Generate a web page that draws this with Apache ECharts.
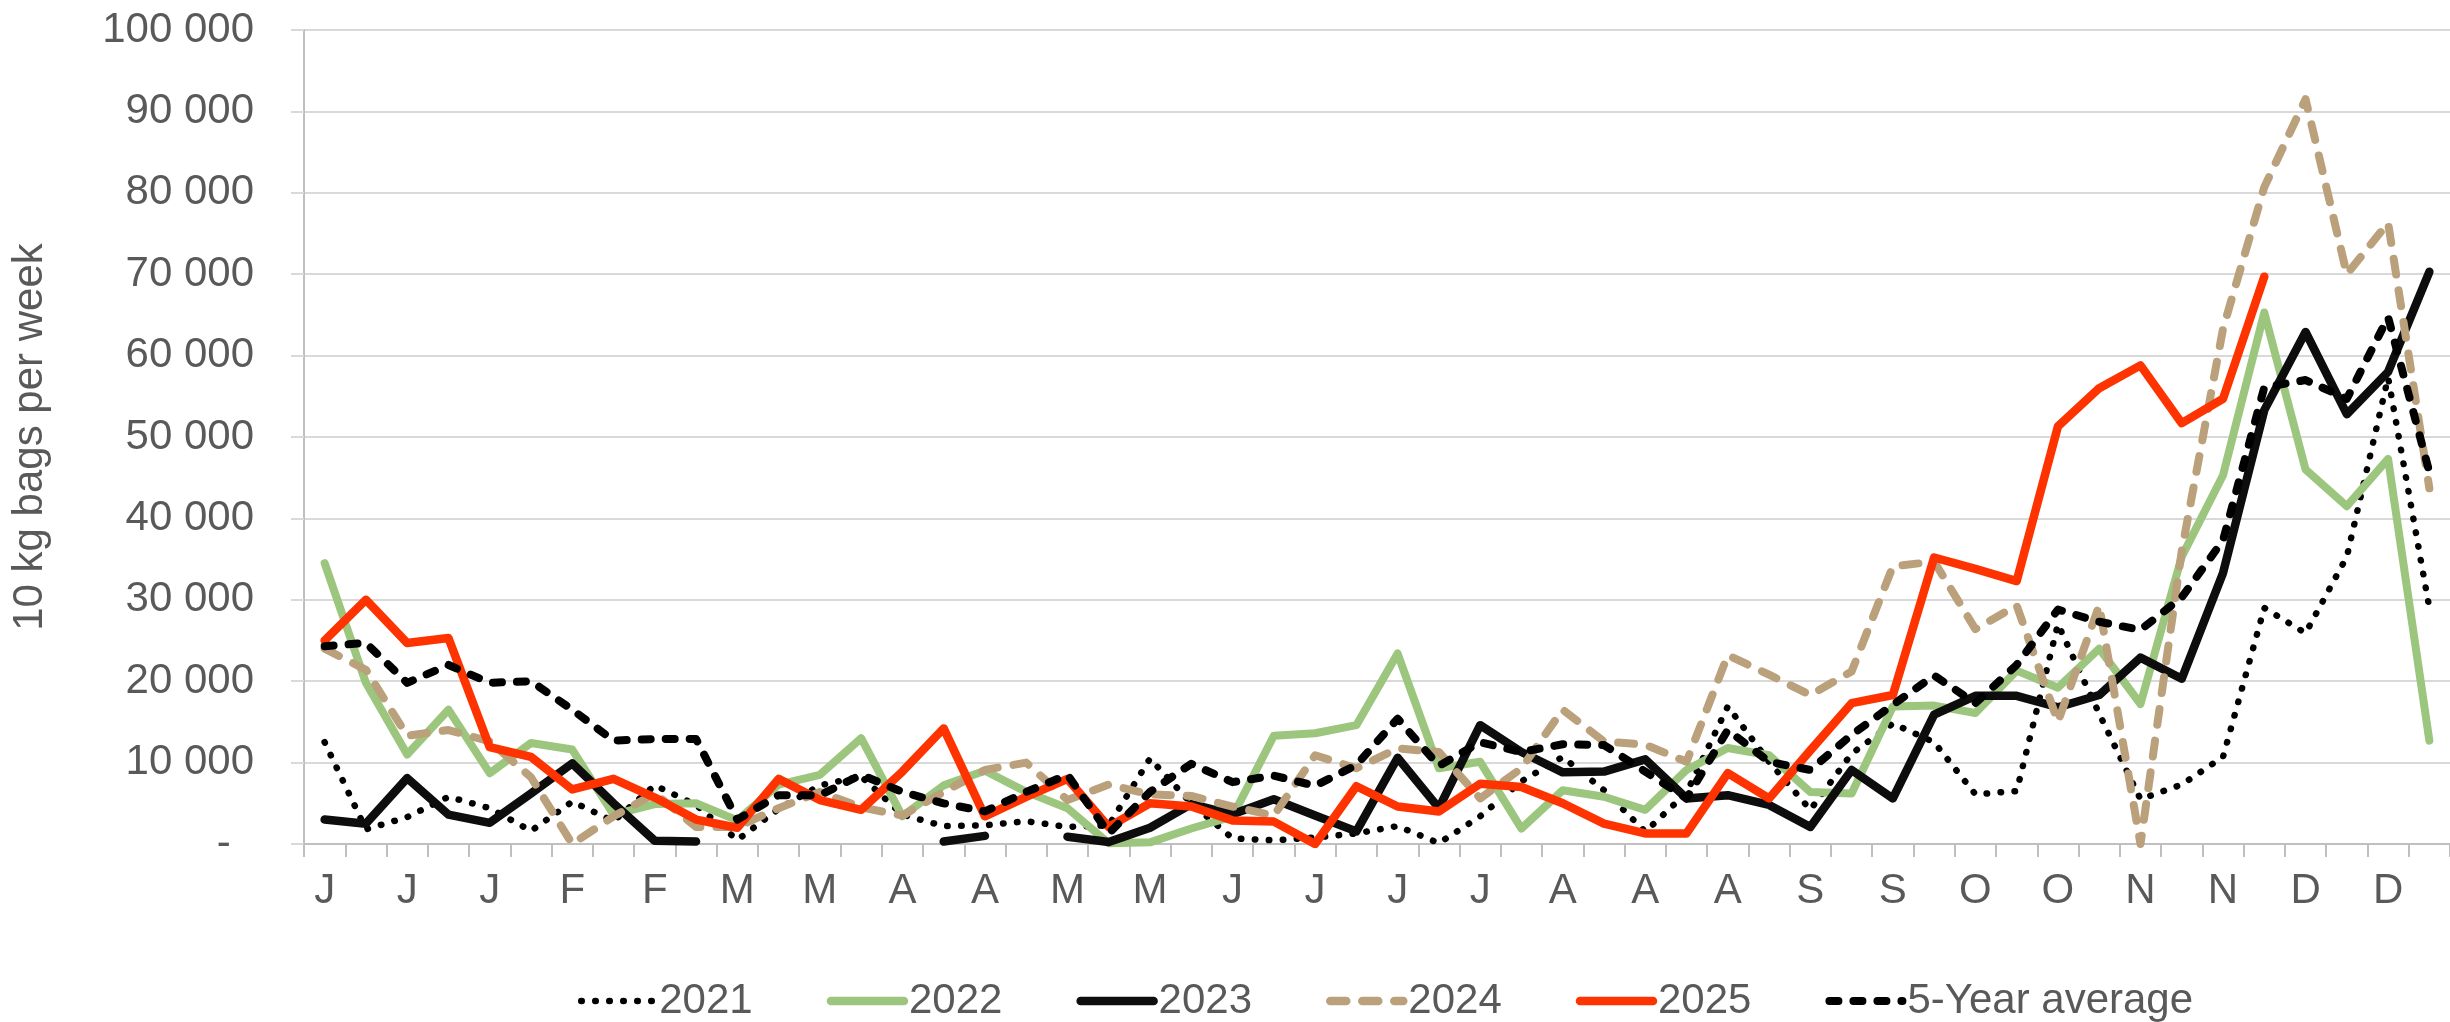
<!DOCTYPE html>
<html>
<head>
<meta charset="utf-8">
<script src="https://cdn.jsdelivr.net/npm/echarts@6/dist/echarts.min.js"></script>
<style>
  html, body { margin: 0; padding: 0; background: #fff; }
  #chart { width: 2450px; height: 1022px; }
</style>
</head>
<body>
<div id="chart"></div>
<script>
// week labels (one per week, only every second one is shown)
const weeks = ['J','J','J','J','J','J','F','F','F','F','M','M','M','M','A','A','A','A','M','M',
               'M','M','J','J','J','J','J','J','J','J','A','A','A','A','A','A','S','S','S','S',
               'O','O','O','O','N','N','N','N','D','D','D','D'];

const y2021 = [12500, 1800, 3300, 5800, 4400, 1600, 5200, 2800, 7200, 4800,
               500, 4300, 7200, 8300, 3600, 2200, 2300, 2800, 2100, 2300,
               10500, 5000, 700, 450, 800, 1300, 2200, 100, 3400, 7700,
               10700, 6600, 1500, 6300, 16900, 10100, 4200, 11100, 14800, 12500,
               6100, 6500, 27000, 16000, 5500, 7300, 10700, 29000, 25900, 35300,
               57300, 29000];

const y2022 = [34500, 19800, 11000, 16500, 8700, 12400, 11600, 3600, 4900, 5000,
               2900, 7300, 8500, 13000, 3400, 7200, 9000, 6400, 4400, 100,
               200, 1900, 3400, 13300, 13600, 14600, 23400, 9300, 10100, 1900,
               6600, 5800, 4200, 9100, 11800, 10900, 6400, 6200, 16900, 17000,
               16100, 21300, 19200, 24000, 17200, 35300, 45300, 65300, 46000, 41500,
               47300, 12700];

const y2023 = [3000, 2500, 8100, 3600, 2600, 6200, 9900, 5000, 400, 300,
               null, null, null, null, null, 300, 1000, null, 900, 250,
               2000, 4900, 3650, 5500, 3500, 1550, 10600, 4400, 14600, 11300,
               8800, 8900, 10400, 5600, 6000, 4800, 2100, 9100, 5600, 15900,
               18200, 18200, 16800, 18300, 22900, 20300, 33300, 53300, 62900, 52800,
               58000, 70300];

const y2024 = [24000, 21400, 13300, 14000, 12600, 8200, 0, 3400, 6200, 2100,
               2100, 4400, 6400, 4500, 3500, 6400, 9100, 10000, 5400, 7300,
               6100, 5900, 4600, 3500, 10900, 9300, 11750, 11300, 5600, 9300,
               16500, 12600, 12200, 10100, 23200, 20800, 18300, 21200, 34100, 34700,
               26400, 29300, 15000, 29300, 0, 36000, 63300, 80700, 91500, 70000,
               76300, 43700];

const y2025 = [25000, 30000, 24700, 25300, 11900, 10700, 6700, 8000, 5700, 3000,
               2000, 8000, 5400, 4200, 8900, 14200, 3400, 5800, 8000, 2100,
               5000, 4600, 2900, 2750, 0, 7100, 4600, 4000, 7400, 7000,
               5000, 2500, 1300, 1300, 8700, 5600, 11500, 17300, 18300, 35200,
               33800, 32300, 51300, 56000, 58800, 51700, 54700, 69700];

const avg5 = [24300, 24700, 19800, 22000, 19800, 20000, 16500, 12700, 12900, 12900,
              3000, 6000, 6000, 8500, 6400, 5000, 4000, 6400, 8500, 1300,
              6400, 9850, 7600, 8400, 7150, 9700, 15400, 9600, 12500, 11300,
              12250, 12150, 8900, 5600, 14000, 10100, 9100, 13400, 17100, 20700,
              17300, 22000, 28800, 27300, 26300, 30300, 37300, 56100, 57000, 54700,
              64700, 45700];

const textGrey = '#595959';
const font = 'Liberation Sans, Arial, sans-serif';

// Excel style: thousands with a space, zero shown as a dash
const fmt = v => v === 0 ? '-  ' : String(v).replace(/\B(?=(\d{3})+(?!\d))/g, ' ');

const mkLine = (name, data, color, width, type) => ({
    name: name,
    type: 'line',
    data: data,
    symbol: 'none',
    connectNulls: false,
    lineStyle: { color: color, width: width, type: type, cap: 'round', join: 'round' },
    itemStyle: { color: color }
});

const chart = echarts.init(document.getElementById('chart'));
chart.setOption({
    backgroundColor: '#fff',
    animation: false,
    grid: { left: 304, top: 30, width: 2151, height: 814 },
    xAxis: {
        type: 'category',
        data: weeks,
        boundaryGap: true,
        axisLine: { lineStyle: { color: '#bfbfbf', width: 2 } },
        axisTick: { show: true, interval: 0, length: 13, lineStyle: { color: '#bfbfbf', width: 2 } },
        axisLabel: { interval: 1, margin: 26, color: textGrey, fontSize: 42, fontFamily: font }
    },
    yAxis: {
        type: 'value',
        min: 0,
        max: 100000,
        interval: 10000,
        name: '10 kg bags per week',
        nameLocation: 'middle',
        nameRotate: 90,
        nameGap: 253,
        nameTextStyle: { color: textGrey, fontSize: 42, fontFamily: font },
        axisLine: { show: true, lineStyle: { color: '#bfbfbf', width: 2 } },
        axisTick: { show: true, length: 13, lineStyle: { color: '#d9d9d9', width: 2 } },
        splitLine: { lineStyle: { color: '#d9d9d9', width: 2 } },
        axisLabel: { margin: 50, color: textGrey, fontSize: 42, fontFamily: font, formatter: fmt }
    },
    legend: {
        left: 578,
        top: 980,
        padding: 0,
        itemGap: 74,
        itemWidth: 73,
        itemHeight: 20,
        textStyle: { color: textGrey, fontSize: 42, fontFamily: font },
        itemStyle: { opacity: 0 },   // hide the marker dot, keep only the line
        lineStyle: { width: 8.5 },
        data: [
            { name: '2021', lineStyle: { width: 6.5 } },
            '2022', '2023', '2024', '2025',
            { name: '5-Year average', lineStyle: { width: 8 } }
        ]
    },
    series: [
        mkLine('2021', y2021, '#000000', 6.5, [0.5, 13.5]),
        mkLine('2022', y2022, '#9cc57e', 8, 'solid'),
        mkLine('2023', y2023, '#0d0d0d', 8.5, 'solid'),
        mkLine('2024', y2024, '#bba07c', 8, [16, 16]),
        mkLine('2025', y2025, '#ff3300', 8.5, 'solid'),
        mkLine('5-Year average', avg5, '#000000', 8, [9, 15])
    ]
});
</script>
</body>
</html>
